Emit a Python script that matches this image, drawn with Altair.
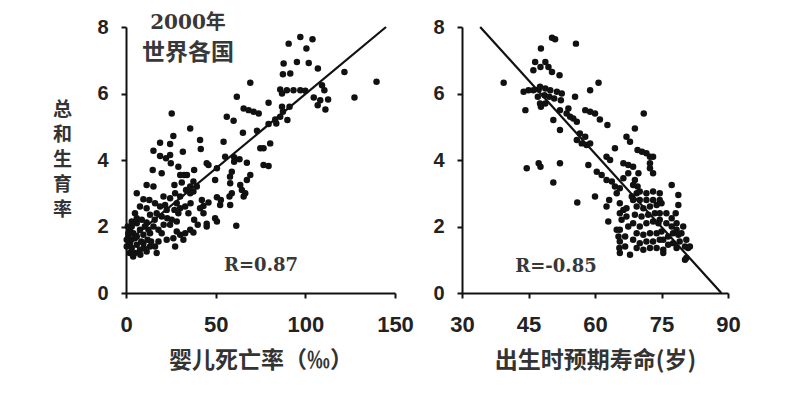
import altair as alt
import pandas as pd

# ---- Left panel: infant mortality (‰) vs total fertility rate ----
im_x = [97.2,104,90.7,100.6,95.3,101.9,87.9,107,121.8,87.5,91.6,139.7,69.3,
        86,89.7,93.4,97.2,100,87,109.3,110.6,104.7,108.3,112.7,127.4,111.2,106.9,61.8,79.5,91.2,87,
        65.6,68.4,71.2,74,86,83.2,87.5,
        25.5,56.2,60,83.8,79.5,90,35.8,65.2,73,26.4,41.3,19,24.6,54.4,80.4,41.7,15.3,31.7,74.9,76.7,
        55.3,60.3,63.3,19,22.3,24.6,60.3,67.4,45,46,25,76.7,79.5,14.9,29.2,50.7,59,58,19.9,30.2,32.4,
        69.3,67.4,49.7,58.1,37.6,39.5,35.8,31.1,11.5,63.7,6,9.7,13,64.6,66.5,59,57.7,33.5,35.8,37.6,
        27.4,30.2,20.9,24.6,50.7,52.9,65.6,42.3,43.2,46,58.1,52.5,28.3,33,30.2,16.2,19,21.8,22.7,7.8,
        11.5,5,41.3,43.2,34.8,29.2,13.4,17.1,19.9,49.7,45,50.7,25.5,28.3,24.6,3.2,6,8.8,11.5,15.3,18.1,
        13.4,61.5,45,35.8,33,37.6,28.3,30.2,26.4,2.2,4.1,7.8,1.3,5,9.7,19.9,22.7,18.1,2.2,6,9.7,13.4,
        3.2,7.8,11.5,16.2,17.1,5,32,27.4,0.4,1.3,0.4,3.2,6,15.3,2,4,8,10,12,14,1,3,6,8.5,10.5,12.5,16,
        21,23,27,36,38,40,27,34,38]
im_y = [7.7,7.63,7.5,7.35,6.95,6.92,6.9,6.75,6.65,6.58,6.6,6.35,6.32,
        6.12,6.1,6.1,6.1,6.08,6.0,6.25,6.1,5.88,5.8,5.82,5.88,5.52,5.65,5.9,5.72,5.6,5.6,
        5.55,5.5,5.45,5.4,5.3,5.22,5.45,
        5.4,5.3,5.18,5.1,5.08,5.2,4.95,4.82,4.88,4.72,4.6,4.52,4.48,4.55,4.5,4.33,4.28,4.25,4.35,4.35,
        4.1,4.08,4.02,4.12,4.05,4.15,3.95,3.92,3.9,3.85,3.9,3.85,3.82,3.7,3.8,3.75,3.65,3.5,3.6,3.55,3.55,
        3.55,3.4,3.4,3.3,3.35,3.2,3.2,3.32,3.25,3.25,3.0,2.82,2.8,3.1,3.0,3.0,2.9,3.1,3.0,3.05,
        3.0,2.9,2.9,2.85,2.88,2.8,2.9,2.8,2.62,2.72,2.65,2.65,2.7,2.6,2.55,2.7,2.6,2.65,2.5,2.6,
        2.55,2.4,2.55,2.4,2.4,2.4,2.35,2.4,2.3,2.25,2.08,2.15,2.2,2.15,2.05,2.15,2.1,2.2,2.12,2.0,1.9,
        1.8,2.02,2.0,1.9,1.8,1.82,1.85,1.75,1.65,1.9,1.8,1.9,1.7,1.65,1.75,1.8,1.6,1.55,1.5,1.45,1.5,1.4,
        1.35,1.3,1.25,1.4,1.2,1.2,1.6,1.4,1.6,1.8,1.4,2.0,2.25,3.2,1.2,1.1,1.15,1.35,1.6,1.55,2.0,1.6,1.7,1.55,2.0,1.9,2.2,
        2.05,2.25,2.5,2.7,2.2,2.05,3.25,3.55,3.7]

# ---- Right panel: life expectancy at birth (years) vs total fertility rate ----
le_x = [39.4,50.3,51,47.8,55.7,46.5,48.8,46.1,49.5,50.3,47.7,52,44.3,43.9,45,46.1,47.3,
        47.6,48.8,49.9,51.4,52.5,47.1,48.6,49.7,50.8,52.3,47.6,48.8,47.8,55.5,58.9,60.8,
        52.1,53.6,54.4,55.1,55.9,54,50.6,52.1,57.8,58.9,60,61.1,62.8,71,69,56.6,57.8,55.9,57,58.1,58.9,
        67.1,67.9,69.6,70.6,71.6,72.4,73.1,44.6,47.3,47.7,52.1,50.6,56,60,58.5,60.4,61.5,62.6,63.4,64.5,
        63.8,62.6,64.5,65.6,64.9,66.4,67.5,68.6,67.5,66.4,69,69.6,69.4,72.4,72.4,63.2,62.6,63,65.6,66.4,
        65.6,67.1,66,65.6,
        68.6,70.1,71.6,73.1,74.6,69.4,70.9,72.4,73.9,75,69,70.5,72,73.5,74.6,68.6,70.1,71.6,73.1,74.3,
        69.4,70.9,72.4,73.9,75,68.6,70.1,71.6,73.1,74.6,69.4,70.9,72.4,73.9,75.4,73.1,71.6,74.6,70.1,
        76.1,77.3,78.4,77.6,78.8,76.5,77.6,79.1,80.3,78.4,79.5,80.6,79.9,77.3,78.4,81,77.3,78.8,78.8,78.2,
        75.4,80.6,80.3,81.4,
        65.6,65.5,67.9,64.9,65.3,65.6,66.8,66.8,67.5,67.1,68.3,69.8,68.6,73.1,75.4,76.5,76.1,74.6]
le_y = [6.32,7.68,7.63,7.35,7.5,6.95,6.95,6.7,6.8,6.65,6.8,6.55,5.5,6.05,6.1,6.1,6.12,
        6.2,6.15,6.1,6.05,6.0,5.9,5.95,5.9,5.85,5.8,5.7,5.7,5.6,5.9,6.1,6.32,
        5.5,5.4,5.3,5.25,5.15,5.55,5.2,4.9,5.5,5.45,5.4,5.22,5.05,5.4,4.95,4.8,4.7,4.6,4.5,4.45,4.5,
        4.7,4.55,4.3,4.25,4.2,4.1,4.1,3.75,3.9,3.8,3.9,3.32,2.72,2.9,3.85,3.65,3.55,4.1,4.0,4.35,
        3.35,3.4,3.2,3.15,3.0,3.9,3.85,3.8,3.6,3.45,3.4,3.2,3.0,3.9,3.75,2.8,2.6,2.15,2.7,2.5,
        2.4,2.55,2.2,1.9,
        2.8,2.8,2.8,2.8,2.8,2.6,2.55,2.6,2.65,2.7,2.35,2.3,2.35,2.4,2.4,2.1,2.0,2.1,2.15,2.1,
        1.8,1.75,1.8,1.8,1.85,1.6,1.5,1.55,1.55,1.6,1.35,1.3,1.35,1.35,1.3,3.05,3.0,3.0,3.05,
        2.1,2.0,2.1,1.8,1.75,1.7,1.5,1.55,1.4,1.35,1.8,1.6,2.0,2.25,1.9,1.35,3.25,2.95,2.65,2.4,
        1.2,1.05,1.0,1.4,
        1.2,1.35,1.15,1.9,1.7,1.55,1.4,1.7,2.0,2.3,2.9,3.6,3.25,3.6,1.6,1.45,2.4,2.2]

# regression lines (end points)
fit_left_x = [2, 145]
fit_left_y = [1.59, 8.0]
fit_right_x = [34.1, 88.5]
fit_right_y = [8.0, 0.0]

left_ticks = [0, 50, 100, 150]
right_ticks = [30, 45, 60, 75, 90]
y_ticks = [0, 2, 4, 6, 8]

H = 266
INK = "#111111"
SERIF = "DejaVu Serif, Noto Sans CJK SC"
SANS_CJK = "Noto Sans CJK SC"


def panel(xs, ys, fx, fy, xdom, xticks, xtitle, ytitle, notes, width):
    xscale = alt.Scale(domain=xdom, nice=False, zero=False)
    yscale = alt.Scale(domain=[0, 8], nice=False)
    if ytitle:
        yaxis = alt.Axis(values=y_ticks, title=ytitle, titleAngle=0, titleX=-64, titleY=82,
                         titleAlign="center", titleBaseline="middle", titleLineHeight=25,
                         titleFontSize=19)
    else:
        yaxis = alt.Axis(values=y_ticks, title=None)
    xaxis = alt.Axis(values=xticks, title=xtitle)
    pts = alt.Chart(pd.DataFrame({"x": xs, "y": ys})).mark_circle(
        size=42, color=INK, opacity=1).encode(
        x=alt.X("x:Q", scale=xscale, axis=xaxis),
        y=alt.Y("y:Q", scale=yscale, axis=yaxis))
    fit = alt.Chart(pd.DataFrame({"x": fx, "y": fy})).mark_line(
        color=INK, strokeWidth=2.2).encode(x="x:Q", y="y:Q")
    layers = [pts, fit]
    for txt, px, py, font, size in notes:
        layers.append(
            alt.Chart(pd.DataFrame({"t": [txt]})).mark_text(
                font=font, fontSize=size, fontWeight="bold", color="#383838",
                align="center", baseline="middle").encode(
                text="t:N", x=alt.value(px), y=alt.value(py)))
    return alt.layer(*layers).properties(width=width, height=H)


left = panel(im_x, im_y, fit_left_x, fit_left_y, [0, 150], left_ticks,
             "婴儿死亡率（‰）", ["总", "和", "生", "育", "率"],
             [("2000年", 62, -4, SERIF, 20), ("世界各国", 62, 25.5, SANS_CJK, 23),
              ("R=0.87", 135, 239, SERIF, 18)], 269)
right = panel(le_x, le_y, fit_right_x, fit_right_y, [30, 90], right_ticks,
              "出生时预期寿命(岁)", None,
              [("R=-0.85", 94, 240, SERIF, 18)], 266)

chart = alt.hconcat(left, right, spacing=18).properties(
    padding={"left": 44, "top": 5, "right": 5, "bottom": 5}
).configure_view(stroke=None).configure_axis(
    grid=False, domainColor=INK, domainWidth=2, tickColor=INK, tickWidth=2, tickSize=5,
    labelFont="Liberation Sans", labelFontWeight="bold", labelColor="#222222",
    labelFlush=False, titleFont=SANS_CJK, titleFontWeight="bold",
    titleColor="#333333"
).configure_axisX(
    labelFontSize=22, labelPadding=16, titleFontSize=23, titlePadding=14
).configure_axisY(
    labelFontSize=20, labelPadding=13
)

chart.save("out.html", embed_options={"renderer": "svg", "actions": False})
